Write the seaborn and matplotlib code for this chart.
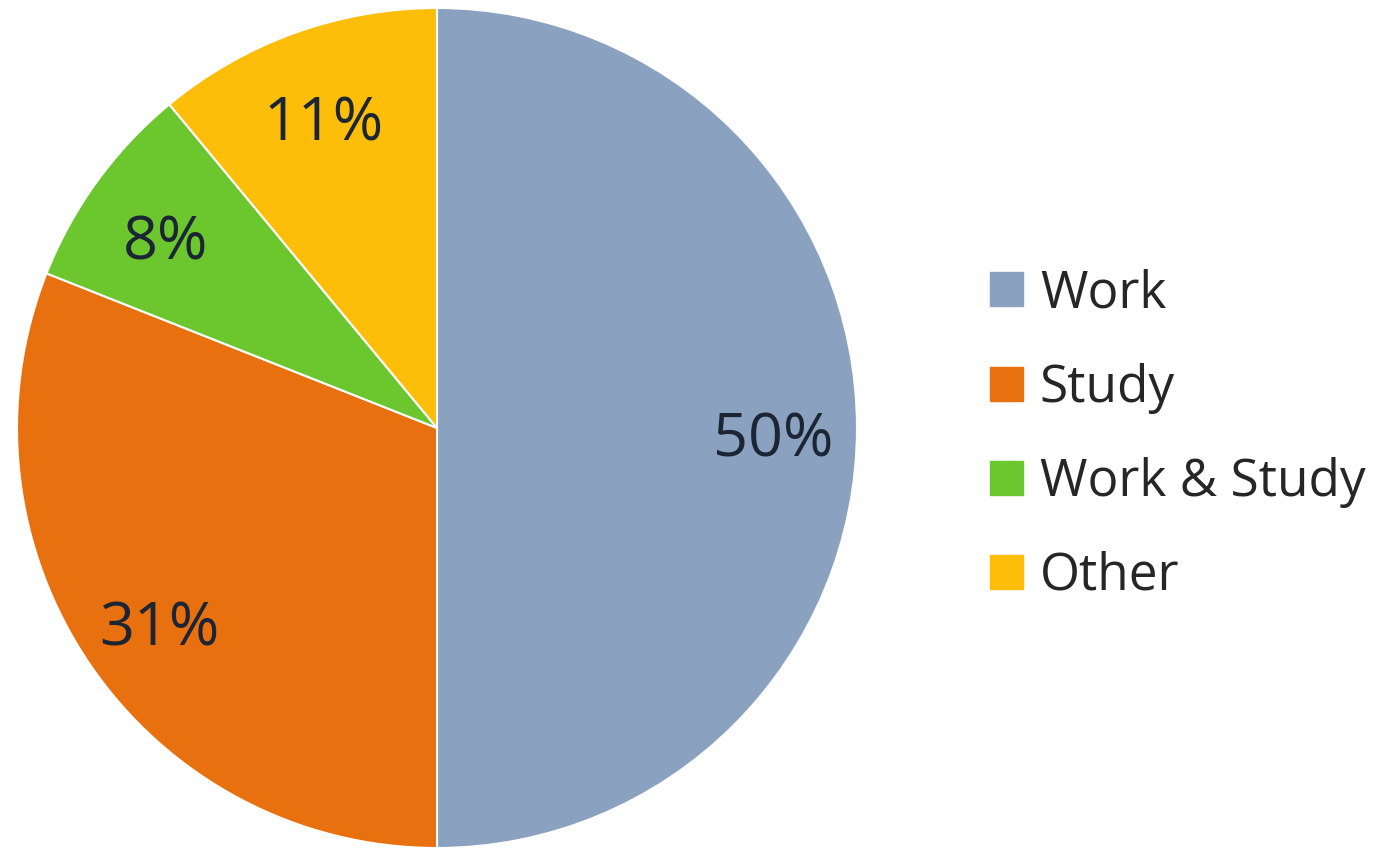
import matplotlib
matplotlib.use("Agg")
import matplotlib.pyplot as plt
import matplotlib.patches as mpatches
import seaborn as sns

# data
labels = ["Work", "Study", "Work & Study", "Other"]
shares = [50, 31, 8, 11]
colors = ["#8AA2BF", "#E8700F", "#6CC72F", "#FDBE0A"]

sns.set_style("white")
plt.rcParams["font.family"] = ["Open Sans", "DejaVu Sans"]

fig = plt.figure(figsize=(13.91, 8.5), dpi=100)
ax = fig.add_axes([17 / 1391, 2 / 850, 840 / 1391, 840 / 850])

wedges, texts, autotexts = ax.pie(
    shares, colors=colors, startangle=90, counterclock=False,
    autopct="%d%%", pctdistance=0.8,
    wedgeprops=dict(edgecolor="white", linewidth=1.5),
    textprops=dict(fontsize=44, color="#1c2533"),
)
# nudge the percent labels down a little
for t in autotexts:
    x, y = t.get_position()
    t.set_position((x, y - 0.03))
ax.set_xlim(-1, 1)
ax.set_ylim(-1, 1)
ax.set_aspect("equal")

handles = [mpatches.Patch(color=c, label=l) for c, l in zip(colors, labels)]
fig.legend(handles=handles, loc="center left", bbox_to_anchor=(990 / 1391, 0.488),
           frameon=False, fontsize=37, handlelength=0.64, handleheight=0.64,
           handletextpad=0.33, labelspacing=0.84, borderpad=0, borderaxespad=0)

fig.savefig("out.png", dpi=100, facecolor="white")
